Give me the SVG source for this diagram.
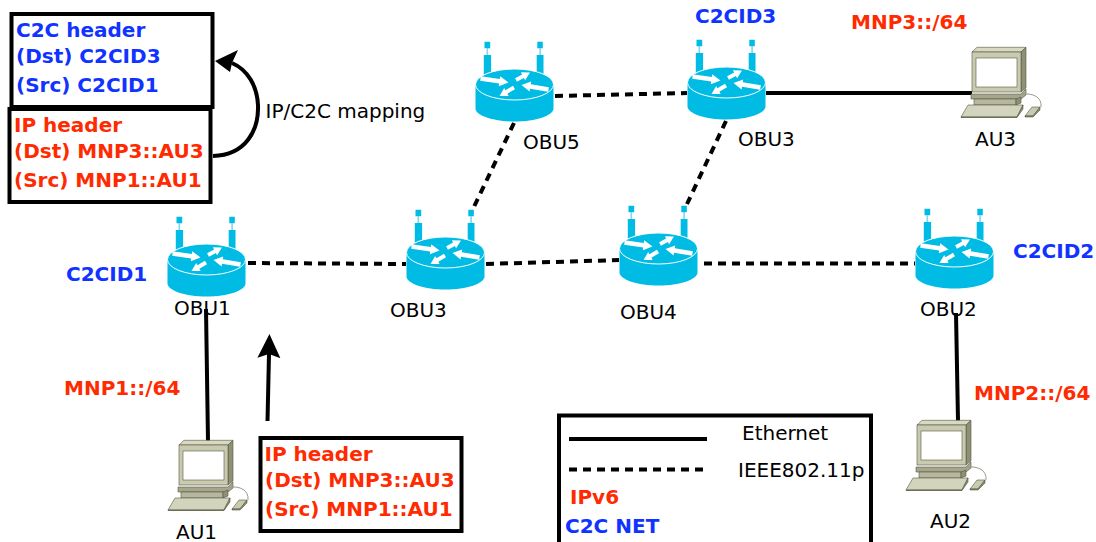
<svg xmlns="http://www.w3.org/2000/svg" width="1096" height="542" viewBox="0 0 1096 542">
<style>
text{font-family:"DejaVu Sans",sans-serif;font-size:20px;fill:#000}
.b{font-weight:bold;fill:#1033ff}
.r{font-weight:bold;fill:#ff2a00}
.box{fill:#fff;stroke:#000;stroke-width:4}
.eth{fill:none;stroke:#000;stroke-width:4}
.wifi{fill:none;stroke:#000;stroke-width:4;stroke-dasharray:8 6}
</style>
<defs>
<marker id="ah" markerUnits="userSpaceOnUse" markerWidth="26" markerHeight="24" refX="4" refY="11.500" orient="auto" viewBox="0 0 26 24"><path d="M24 11.500L0 0L4 11.500L0 23Z" fill="#000"/></marker>
<g id="router">
<path d="M-30-42.800h5.700v6.600h-5.700zM22.800-42.800h5.500v6.600h-5.500z" fill="#00bbe4"/>
<path d="M-28-36.500h1.600v7.500h-1.600zM24.800-36.500h1.600v7.500h-1.600z" fill="#7fd8ee"/>
<path d="M-30.700-29.500h7.300v20h-7.300zM22.200-29.500h6.800v20h-6.800z" fill="#00bbe4"/>
<path d="M-39 0V24C-39 31-21 37 0 37S39 31 39 24V0Z" fill="#00bbe4"/>
<ellipse cx="0" cy="0" rx="39" ry="15.500" fill="#00bbe4" stroke="#fff" stroke-width="1"/>
<path d="M-33.700-8.300L-14.700-5.600L-14.300-8.300L-6-2L-15.700 1.700L-15.300-1L-34.300-3.700ZM.6-6.300L7.600-10L6.400-12.200L15.500-12L10.600-4.200L9.400-6.400L2.400-2.700ZM-1.500 1.300L-9.100 5.800L-10.300 3.600L-15 11.500L-5.900 11.400L-7.100 9.200L.5 4.700ZM34.400 2.700L16.300-.3L16.700-2.900L7 .5L15.100 6.900L15.500 4.300L33.600 7.300Z" fill="#fff"/>
</g>
<g id="pc" stroke="#55573f" stroke-width=".6">
<path d="M11 5L16 .3H65L60 5Z" fill="#d8d9c3"/>
<path d="M60 5L65 .3V41L60 45Z" fill="#8f9176"/>
<rect x="11" y="5" width="49" height="40" fill="#c9cab0"/>
<rect x="15" y="11" width="41" height="29" fill="#fff" stroke="#55573f"/>
<path d="M10 47H60L65 42V48L60 52H10Z" fill="#a5a68c"/>
<path d="M13 52H55V58H13Z" fill="#b6b79e"/>
<path d="M55 52L60 50V56L55 58Z" fill="#8f9176"/>
<path d="M7 58H62L56 70H0Z" fill="#d3d4bd"/>
<path d="M0 70H56L62 58V62L56 70.500H0Z" fill="#8f9176"/>
<path d="M71 60H79L72 69H64Z" fill="#c9cab0"/>
<path d="M64 69H72L79 60V63L72 70H64Z" fill="#8f9176"/>
<path d="M61 47C72 46 81 50 80 60" fill="none" stroke="#9a9b85" stroke-width="1"/>
</g>
</defs>
<g id="connectors">
<path class="eth" d="M766 93H972M206 309L208 441M956 313L958 421"/>
<path class="wifi" d="M248 263L406 264M486 264L619 260M704 263.500H915M555 96L687 93M514 123L471 213M726 121L687 204"/>
<path class="eth" d="M213 156C246 155 259 130 258 105C257 86 248 70 232 63"/>
<path d="M215 61L238 50L232 63L230 72Z" fill="#000"/>
<path class="eth" d="M267.500 421L269 354" marker-end="url(#ah)"/>
</g>
<g id="OBU1"><use href="#router" x="206.500" y="259.500"/><text x="174" y="315">OBU1</text><text class="b" x="66" y="281">C2CID1</text></g>
<g id="OBU3a"><use href="#router" x="445.500" y="252.500"/><text x="390" y="317">OBU3</text></g>
<g id="OBU4"><use href="#router" x="658.500" y="248.500"/><text x="620" y="319">OBU4</text></g>
<g id="OBU2"><use href="#router" x="954.500" y="251.500"/><text x="920" y="316">OBU2</text><text class="b" x="1013" y="258">C2CID2</text></g>
<g id="OBU5"><use href="#router" x="514.500" y="84.500"/><text x="523" y="149">OBU5</text></g>
<g id="OBU3b"><use href="#router" x="726.500" y="82.500"/><text x="738" y="146">OBU3</text><text class="b" x="695" y="23">C2CID3</text></g>
<g id="AU3"><use href="#pc" x="961" y="47"/><text x="975" y="146">AU3</text><text class="r" x="851" y="29">MNP3::/64</text></g>
<g id="AU1"><use href="#pc" x="168" y="440"/><text x="176" y="539">AU1</text><text class="r" x="64" y="395">MNP1::/64</text></g>
<g id="AU2"><use href="#pc" x="906" y="420"/><text x="930" y="528">AU2</text><text class="r" x="974" y="400">MNP2::/64</text></g>
<g id="c2c-header"><rect class="box" x="11.500" y="14" width="201" height="93"/>
<text class="b" x="16" y="37">C2C header</text><text class="b" x="16" y="63">(Dst) C2CID3</text><text class="b" x="16" y="92">(Src) C2CID1</text></g>
<g id="ip-header-top"><rect class="box" x="9.500" y="109" width="201" height="93"/>
<text class="r" x="14" y="132">IP header</text><text class="r" x="14" y="158">(Dst) MNP3::AU3</text><text class="r" x="14" y="187">(Src) MNP1::AU1</text></g>
<text x="265.500" y="118">IP/C2C mapping</text>
<g id="ip-header-bottom"><rect class="box" x="260.500" y="438" width="201" height="93"/>
<text class="r" x="264.500" y="461">IP header</text><text class="r" x="265" y="487">(Dst) MNP3::AU3</text><text class="r" x="265" y="516">(Src) MNP1::AU1</text></g>
<g id="legend"><path d="M559 545V415.500H871V545" fill="none" stroke="#000" stroke-width="4"/>
<path class="eth" d="M569 439H707"/><path class="wifi" d="M569 469.500H703"/>
<text x="742" y="440">Ethernet</text><text x="738" y="477">IEEE802.11p</text>
<text class="r" x="570" y="504">IPv6</text><text class="b" x="565" y="533">C2C NET</text></g>
</svg>
